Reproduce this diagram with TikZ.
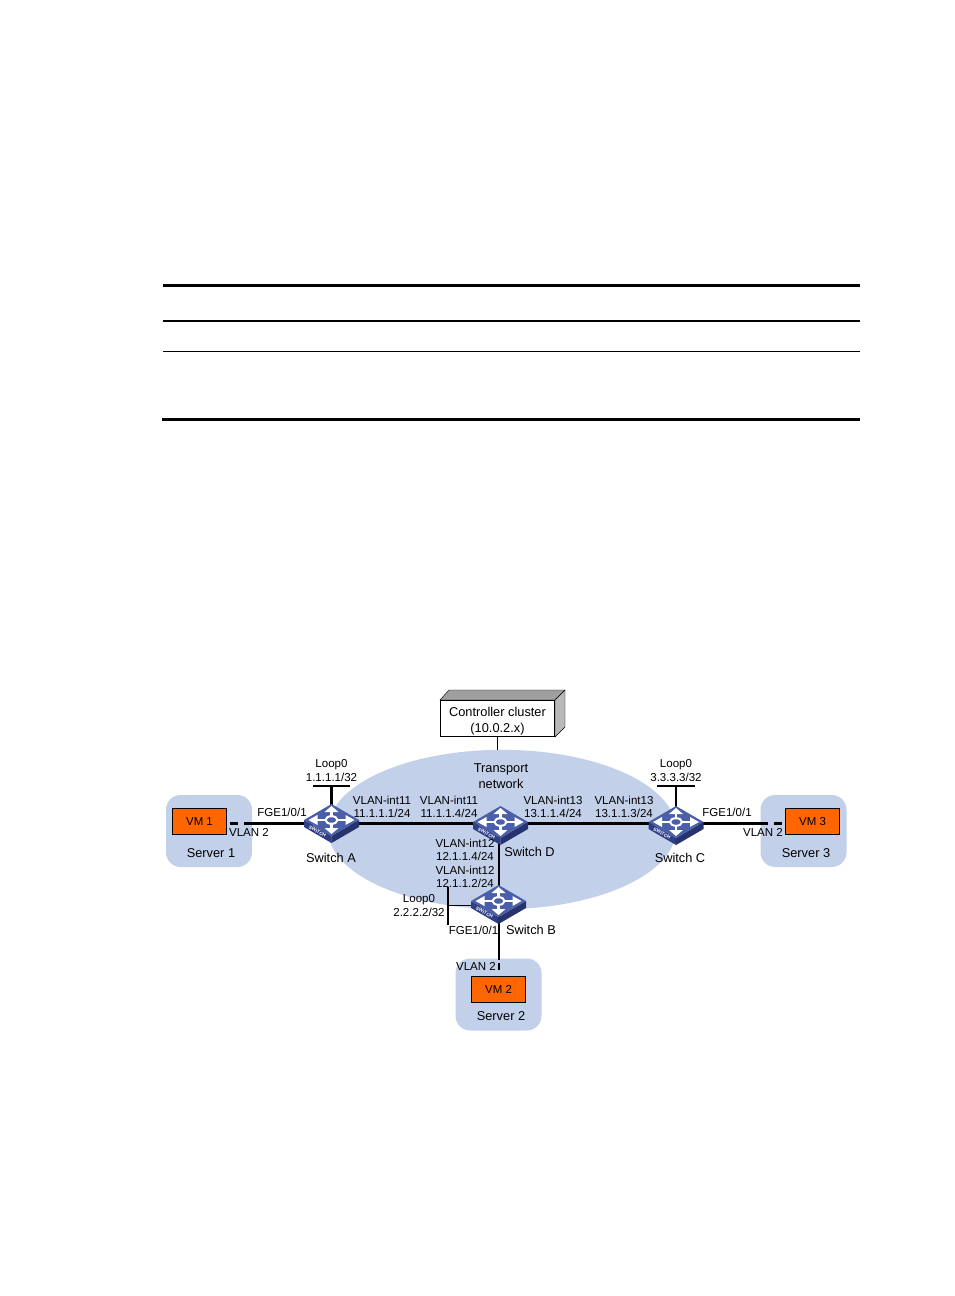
\documentclass[tikz,border=0pt]{standalone}
\usepackage{fontspec}
\usetikzlibrary{shapes.geometric}
\setmainfont{Liberation Sans}
\definecolor{netblue}{HTML}{C3D0EA}
\definecolor{vmorange}{HTML}{FF6600}
\definecolor{swtop}{HTML}{4A5FA8}
\definecolor{swleft}{HTML}{2F3F85}
\definecolor{swright}{HTML}{26336F}
\tikzset{
  x=0.75pt,y=-0.75pt,
  lab/.style={inner sep=0pt,align=center,font=\fontsize{8.65}{9.9}\selectfont},
  biglab/.style={inner sep=0pt,align=center,font=\fontsize{9.6}{11.6}\selectfont},
  serverbox/.style={fill=netblue,draw=none,rounded corners=11pt,minimum width=64.5pt,minimum height=54pt,inner sep=0pt},
  vmbox/.style={fill=vmorange,draw=black,line width=0.6pt,minimum width=41pt,minimum height=20pt,inner sep=0pt,font=\fontsize{8.6}{10}\selectfont},
  swnode/.style={minimum width=41pt,minimum height=27pt,inner sep=0pt},
  link/.style={line width=1.7pt,draw=black},
  thinlink/.style={line width=0.7pt,draw=black},
  dashlink/.style={line width=1.7pt,draw=black,dash pattern=on 6.2pt off 4.3pt},
  vdashlink/.style={line width=1.7pt,draw=black,dash pattern=on 0pt off 2.2pt on 5.3pt off 10pt},
  rule/.style={draw=black},
}
\newcommand{\switchicon}[1]{%
  \begin{scope}[shift={(#1)}]
    \fill[swleft] (-27.5,0) -- (0,16) -- (0,23) -- (-27.5,7) -- cycle;
    \fill[swright] (0,16) -- (27.5,0) -- (27.5,7) -- (0,23) -- cycle;
    \fill[swtop] (0,-16) -- (27.5,0) -- (0,16) -- (-27.5,0) -- cycle;
    \draw[white,line width=1.9pt] (-16,0) -- (-6,0) (6,0) -- (16,0) (0,-9.5) -- (0,-3.5) (0,3.5) -- (0,9.5);
    \fill[white] (-23,0) -- (-14,-5) -- (-14,5) -- cycle;
    \fill[white] (23,0) -- (14,-5) -- (14,5) -- cycle;
    \fill[white] (0,-14) -- (-7,-8) -- (7,-8) -- cycle;
    \fill[white] (0,14) -- (-7,8) -- (7,8) -- cycle;
    \draw[white,line width=1.5pt] (0,0) ellipse (6 and 3.8);
    \node[rotate=-30,text=white,inner sep=0pt,font=\fontsize{3.6}{4}\bfseries\selectfont] at (-14,11.5) {SWITCH};
  \end{scope}}
\begin{document}
\begin{tikzpicture}
\useasboundingbox (0,0) rectangle (954,1296);
\fill[white] (0,0) rectangle (954,1296);
% table rules
\draw[rule,line width=2.2pt] (163,285.3) -- (860,285.3);
\draw[rule,line width=1.4pt] (163,321) -- (860,321);
\draw[rule,line width=0.8pt] (163,351.3) -- (860,351.3);
\draw[rule,line width=2.2pt] (162,419.5) -- (860,419.5);
% backgrounds
\node[ellipse,fill=netblue,minimum width=261pt,minimum height=119.5pt,inner sep=0pt] (net) at (502,829.5) {};
\node[serverbox] (srv1) at (209,831) {};
\node[serverbox] (srv3) at (803.5,831) {};
\node[serverbox] (srv2) at (498.5,994.5) {};
% controller
\fill[gray!75,draw=black,line width=0.3pt] (440,700) -- (449,690) -- (565,690) -- (555,700) -- cycle;
\fill[gray!55,draw=black,line width=0.3pt] (555,700) -- (565,690) -- (565,727) -- (555,737) -- cycle;
\node[draw=black,fill=white,line width=0.6pt,minimum width=86pt,minimum height=27.5pt,inner sep=0pt] (ctrl) at (497.5,718.5) {};
% vms
\node[vmbox] (vm1) at (199.5,821.5) {VM 1};
\node[vmbox] (vm3) at (812.5,821.5) {VM 3};
\node[vmbox] (vm2) at (498.5,989.5) {VM 2};
% switch anchors
\node[swnode] (swA) at (331.5,820) {};
\node[swnode] (swD) at (499,822) {};
\node[swnode] (swC) at (676,822) {};
\node[swnode] (swB) at (499,903) {};
\coordinate (la) at (331.5,786);
\coordinate (laL) at (313,786);
\coordinate (laR) at (350,786);
\coordinate (lc) at (676,786);
\coordinate (lcL) at (657,786);
\coordinate (lcR) at (695,786);
\coordinate (lb) at (448,905.5);
\coordinate (lbT) at (448,887);
\coordinate (lbB) at (448,925);
\coordinate (j1) at (252,823.5);
\coordinate (j3) at (760,823.5);
\coordinate (j2) at (499,960);
% links
\draw[thinlink] (ctrl.south) -- (ctrl.south |- net.north);
\draw[link] (swA.center |- j1) -- (swD.center |- j1);
\draw[link] (swD.center |- j1) -- (swC.center |- j1);
\draw[link] (swD.center) -- (swB.center);
\draw[link] (swA.center) -- (la);
\draw[link] (laL) -- (laR);
\draw[link] (swC.center) -- (lc);
\draw[link] (lcL) -- (lcR);
\draw[line width=1.3pt] (swB.center |- lb) -- (lb);
\draw[link] (lbT) -- (lbB);
\draw[link] (swA.center |- j1) -- (j1);
\draw[dashlink] (j1) -- (vm1.east |- j1);
\draw[link] (swC.center |- j3) -- (j3);
\draw[dashlink] (j3) -- (vm3.west |- j3);
\draw[link] (swB.center) -- (j2);
\draw[vdashlink] (j2) -- (j2 |- vm2.north);
% switch icons
\switchicon{331.5,820}
\switchicon{500.5,822}
\switchicon{676,822}
\switchicon{498.5,901}
% labels
\node[biglab] (tctrl) at (497.5,721) {Controller cluster\\(10.0.2.x)};
\node[biglab] (tnet) at (501,776) {Transport\\network};
\node[lab] (tla) at (331.5,770.5) {Loop0\\1.1.1.1/32};
\node[lab] (tlc) at (676,770.5) {Loop0\\3.3.3.3/32};
\node[lab] (tlb) at (419,905.5) {Loop0\\2.2.2.2/32};
\node[lab] (t1) at (382,807) {VLAN-int11\\11.1.1.1/24};
\node[lab] (t2) at (449,807) {VLAN-int11\\11.1.1.4/24};
\node[lab] (t3) at (553,807) {VLAN-int13\\13.1.1.4/24};
\node[lab] (t4) at (624,807) {VLAN-int13\\13.1.1.3/24};
\node[lab] (t5) at (465,850) {VLAN-int12\\12.1.1.4/24};
\node[lab] (t6) at (465,877) {VLAN-int12\\12.1.1.2/24};
\node[lab] (f1) at (282,812.5) {FGE1/0/1};
\node[lab] (f3) at (727,812.5) {FGE1/0/1};
\node[lab] (f2) at (473.5,930.5) {FGE1/0/1};
\node[lab] (v1) at (249,832.5) {VLAN 2};
\node[lab] (v3) at (763,832.5) {VLAN 2};
\node[lab] (v2) at (476,966.5) {VLAN 2};
\node[biglab] (sa) at (331,858) {Switch A};
\node[biglab] (sd) at (529.5,852) {Switch D};
\node[biglab] (sc) at (680,858) {Switch C};
\node[biglab] (sb) at (531,930) {Switch B};
\node[biglab] (s1) at (211,853) {Server 1};
\node[biglab] (s3) at (806,853) {Server 3};
\node[biglab] (s2) at (501,1016.5) {Server 2};
\end{tikzpicture}
\end{document}
